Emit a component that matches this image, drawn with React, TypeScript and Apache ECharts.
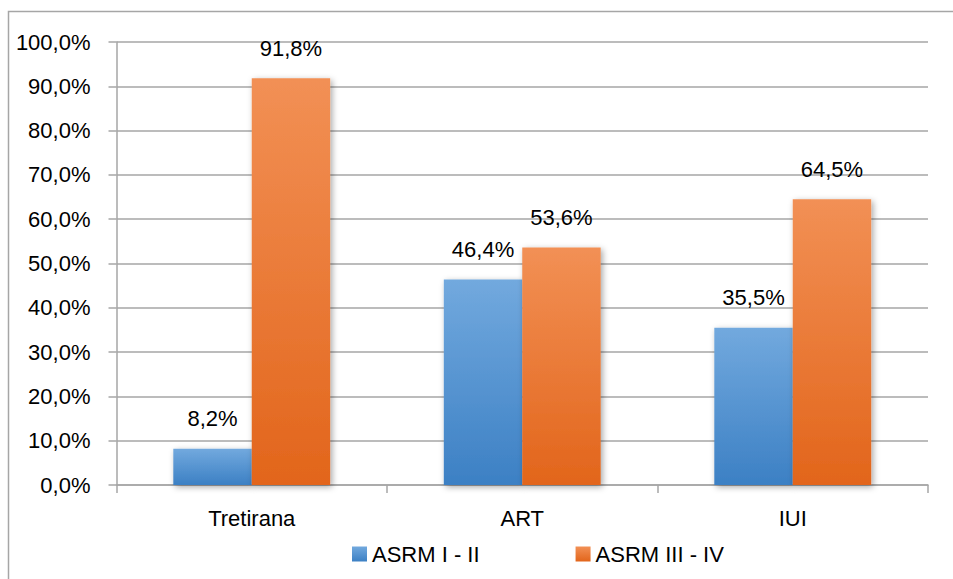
import React, { useEffect, useRef } from "react";
import * as echarts from "echarts";

const categories = ["Tretirana", "ART", "IUI"];
const seriesNames = ["ASRM I - II", "ASRM III - IV"];
const asrmLow = [8.2, 46.4, 35.5];
const asrmHigh = [91.8, 53.6, 64.5];
const yTicks = { min: 0, max: 100, interval: 10 };

const FONT = "Liberation Sans";
const fmt = (v: number) => v.toFixed(1).replace(".", ",") + "%";

const grad = (top: string, bottom: string) =>
  new echarts.graphic.LinearGradient(0, 0, 0, 1, [
    { offset: 0, color: top },
    { offset: 1, color: bottom },
  ]);

export default function App() {
  const ref = useRef<HTMLDivElement>(null);
  useEffect(() => {
    if (!ref.current) return;
    const chart = echarts.init(ref.current, undefined, { renderer: "svg" });
    const barStyle = (top: string, bottom: string) => ({
      color: grad(top, bottom),
      shadowColor: "rgba(0,0,0,0.35)",
      shadowBlur: 6,
      shadowOffsetX: 2,
      shadowOffsetY: 2,
    });
    const label = {
      show: true,
      position: "top" as const,
      distance: 19,
      fontFamily: FONT,
      fontSize: 22,
      color: "#000",
      formatter: (p: any) => fmt(p.value),
    };
    chart.setOption({
      animation: false,
      backgroundColor: "#fff",
      graphic: [
        {
          type: "polyline",
          shape: { points: [[8.5, 590], [8.5, 11.5], [960, 11.5]] },
          style: { stroke: "#a6a6a6", lineWidth: 1.5, fill: "none" },
        },
      ],
      grid: { left: 116.5, right: 25, top: 42, bottom: 94 },
      legend: {
        left: 347,
        top: 538,
        itemWidth: 15,
        itemHeight: 15,
        itemGap: 96,
        icon: "rect",
        textStyle: { fontFamily: FONT, fontSize: 22, color: "#000" },
        data: seriesNames,
      },
      xAxis: {
        type: "category",
        data: categories,
        axisLine: { lineStyle: { color: "#a6a6a6", width: 1.5 } },
        axisTick: { show: true, length: 8, lineStyle: { color: "#a6a6a6", width: 1.5 } },
        axisLabel: { margin: 22, fontFamily: FONT, fontSize: 22, color: "#000" },
      },
      yAxis: {
        type: "value",
        min: yTicks.min,
        max: yTicks.max,
        interval: yTicks.interval,
        axisLine: { show: true, lineStyle: { color: "#a6a6a6", width: 1.5 } },
        axisTick: { show: true, length: 8, lineStyle: { color: "#a6a6a6", width: 1.5 } },
        splitLine: { lineStyle: { color: "#a6a6a6", width: 1.5 } },
        axisLabel: {
          margin: 26,
          fontFamily: FONT,
          fontSize: 22,
          color: "#000",
          formatter: (v: number) => fmt(v),
        },
      },
      series: [
        {
          name: seriesNames[0],
          type: "bar",
          data: asrmLow,
          barGap: "0%",
          barCategoryGap: "42%",
          itemStyle: barStyle("#72a9de", "#3c80c4"),
          label,
        },
        {
          name: seriesNames[1],
          type: "bar",
          data: asrmHigh,
          barGap: "0%",
          barCategoryGap: "42%",
          itemStyle: barStyle("#f29055", "#e2651b"),
          label,
        },
      ],
    });
    return () => chart.dispose();
  }, []);
  return (
    <div
      ref={ref}
      style={{ position: "fixed", left: 0, top: 0, width: 953, height: 579 }}
    />
  );
}
